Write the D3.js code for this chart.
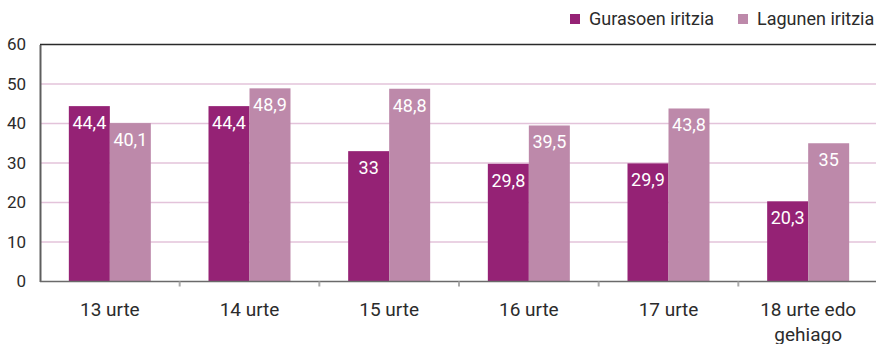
<!DOCTYPE html>
<html>
<head>
<meta charset="utf-8">
<script src="https://cdn.jsdelivr.net/npm/d3@7"></script>
<style>
  html, body { margin: 0; padding: 0; background: #fff; }
  svg { display: block; font-family: Roboto, "Open Sans", sans-serif; }
</style>
</head>
<body>
<svg id="chart" width="876" height="344"></svg>
<script>
// Age groups and the two opinion series (%)
const categories = [["13 urte"], ["14 urte"], ["15 urte"], ["16 urte"], ["17 urte"], ["18 urte edo", "gehiago"]];
const seriesNames = ["Gurasoen iritzia", "Lagunen iritzia"];
const gurasoen = [44.4, 44.4, 33, 29.8, 29.9, 20.3];
const lagunen = [40.1, 48.9, 48.8, 39.5, 43.8, 35];
const yTicks = [0, 10, 20, 30, 40, 50, 60];
const colors = ["#952275", "#bd89aa"];

const svg = d3.select("#chart");
const plotLeft = 40, plotRight = 878, plotTop = 44.5, plotBottom = 281.5;

const x = d3.scaleBand().domain(d3.range(categories.length)).range([plotLeft, plotRight]).padding(0);
const y = d3.scaleLinear().domain([0, 60]).range([plotBottom, plotTop]);
const barW = 41;
const fmt = v => String(v).replace(".", ",");

// gridlines
svg.append("g").selectAll("line").data(yTicks.filter(t => t > 0 && t < 60)).join("line")
  .attr("x1", plotLeft).attr("x2", 876)
  .attr("y1", d => y(d)).attr("y2", d => y(d))
  .attr("stroke", "#e3c3da").attr("stroke-width", 1.5);

// bars
const series = [gurasoen, lagunen];
series.forEach((vals, s) => {
  const g = svg.append("g");
  g.selectAll("rect").data(vals).join("rect")
    .attr("x", (d, i) => x(i) + x.bandwidth() / 2 - barW + s * barW)
    .attr("y", d => y(d))
    .attr("width", barW)
    .attr("height", d => y(0) - y(d))
    .attr("fill", colors[s]);
  g.selectAll("text").data(vals).join("text")
    .attr("x", (d, i) => x(i) + x.bandwidth() / 2 - barW / 2 + s * barW)
    .attr("y", d => y(d) + 23)
    .attr("text-anchor", "middle")
    .attr("font-size", 18)
    .attr("fill", "#fff")
    .text(d => fmt(d));
});

// top frame line
svg.append("line").attr("x1", plotLeft).attr("x2", 876).attr("y1", plotTop).attr("y2", plotTop)
  .attr("stroke", "#2a2a2a").attr("stroke-width", 1.6);

// y axis
const yAxis = svg.append("g").attr("transform", `translate(${plotLeft},0)`)
  .call(d3.axisLeft(y).tickValues(yTicks).tickSize(0).tickPadding(14));
yAxis.select(".domain").attr("stroke", "#5e5e5e").attr("stroke-width", 2);
yAxis.selectAll("text").attr("font-size", 17).attr("fill", "#2b2b2b")
  .attr("font-family", "Roboto, sans-serif");

// x axis
svg.append("line").attr("x1", plotLeft).attr("x2", 876).attr("y1", plotBottom).attr("y2", plotBottom)
  .attr("stroke", "#6a6a6a").attr("stroke-width", 1.6);
svg.append("g").selectAll("line").data(d3.range(1, categories.length)).join("line")
  .attr("x1", d => x(d)).attr("x2", d => x(d))
  .attr("y1", plotBottom).attr("y2", plotBottom + 5)
  .attr("stroke", "#aaaaaa").attr("stroke-width", 2);

const xl = svg.append("g").selectAll("text").data(categories).join("text")
  .attr("text-anchor", "middle")
  .attr("font-size", 19)
  .attr("fill", "#2b2b2b");
xl.each(function (lines, i) {
  d3.select(this).selectAll("tspan").data(lines).join("tspan")
    .attr("x", x(i) + x.bandwidth() / 2)
    .attr("y", (d, j) => 316 + j * 25)
    .text(d => d);
});

// legend
const legendX = [570, 738];
seriesNames.forEach((name, s) => {
  svg.append("rect").attr("x", legendX[s]).attr("y", 14).attr("width", 10).attr("height", 10)
    .attr("fill", colors[s]);
  svg.append("text").attr("x", legendX[s] + 19).attr("y", 25)
    .attr("font-size", 18).attr("fill", "#2b2b2b").text(name);
});
</script>
</body>
</html>
